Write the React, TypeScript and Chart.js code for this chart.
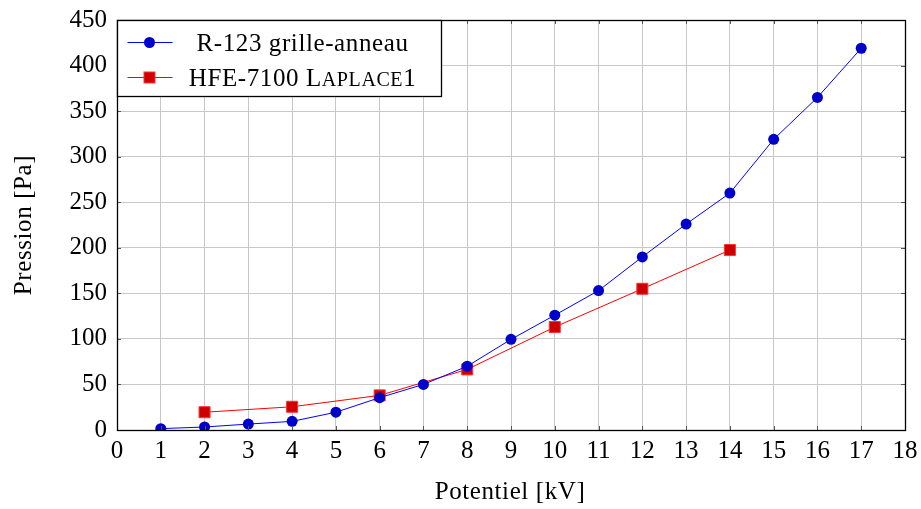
import React, { useEffect, useRef } from 'react';
import { Chart, registerables } from 'chart.js';

Chart.register(...registerables);

// ---- Data ----
const r123X = [1, 2, 3, 4, 5, 6, 7, 8, 9, 10, 11, 12, 13, 14, 15, 16, 17];
const r123Y = [1.5, 3.3, 6.5, 9.5, 19.5, 35.5, 50, 70, 99.5, 126, 153, 190, 226, 260, 319, 365, 419];
const hfeX = [2, 4, 6, 8, 10, 12, 14];
const hfeY = [19.5, 25.5, 38, 66.5, 113, 155, 197.5];
const xMin = 0, xMax = 18, xStep = 1;
const yMin = 0, yMax = 450, yStep = 50;
const r123Label = 'R-123 grille-anneau';
const hfeLabel = 'HFE-7100 Laplace1';
const xTitle = 'Potentiel [kV]';
const yTitle = 'Pression [Pa]';

const FONT = '"Liberation Serif", "DejaVu Serif", serif';
const FS = 25;

const framePlugin = {
  id: 'framePlugin',
  afterDatasetsDraw(chart: any) {
    const { ctx, chartArea: a, scales } = chart;
    ctx.save();
    ctx.strokeStyle = '#555';
    ctx.lineWidth = 1;
    const tl = 4;
    scales.x.ticks.forEach((t: any) => {
      const px = Math.round(scales.x.getPixelForValue(t.value)) + 0.5;
      ctx.beginPath();
      ctx.moveTo(px, a.bottom); ctx.lineTo(px, a.bottom - tl);
      ctx.moveTo(px, a.top); ctx.lineTo(px, a.top + tl);
      ctx.stroke();
    });
    scales.y.ticks.forEach((t: any) => {
      const py = Math.round(scales.y.getPixelForValue(t.value)) + 0.5;
      ctx.beginPath();
      ctx.moveTo(a.left, py); ctx.lineTo(a.left + tl, py);
      ctx.moveTo(a.right, py); ctx.lineTo(a.right - tl, py);
      ctx.stroke();
    });
    ctx.strokeStyle = '#000';
    ctx.lineWidth = 1.3;
    ctx.strokeRect(Math.round(a.left) + 0.5, Math.round(a.top) + 0.5, Math.round(a.right - a.left), Math.round(a.bottom - a.top));
    ctx.restore();
  },
  afterDraw(chart: any) {
    const { ctx, chartArea: a } = chart;
    ctx.save();
    ctx.fillStyle = '#000';
    ctx.font = `${FS}px ${FONT}`;
    ctx.textAlign = 'center';
    ctx.textBaseline = 'middle';
    (ctx as any).letterSpacing = '0.6px';
    ctx.fillText(xTitle, 510, 492);
    ctx.save();
    ctx.translate(24, 225);
    ctx.rotate(-Math.PI / 2);
    ctx.fillText(yTitle, 0, 0);
    ctx.restore();

    // legend box
    const bx = Math.round(a.left) + 0.5, by = Math.round(a.top) + 0.5;
    const bw = 324, bh = 76;
    ctx.fillStyle = '#fff';
    ctx.fillRect(bx, by, bw, bh);
    ctx.strokeStyle = '#000';
    ctx.lineWidth = 1.3;
    ctx.strokeRect(bx, by, bw, bh);

    const lx0 = bx + 10, lx1 = bx + 55, mx = bx + 32;
    const textCx = bx + 185;
    const ds = chart.data.datasets;
    let y = by + 22;
    ctx.strokeStyle = ds[0].borderColor;
    ctx.lineWidth = 1;
    ctx.beginPath(); ctx.moveTo(lx0, y); ctx.lineTo(lx1, y); ctx.stroke();
    ctx.fillStyle = ds[0].pointBackgroundColor;
    ctx.beginPath(); ctx.arc(mx, y, 5.5, 0, Math.PI * 2); ctx.fill();
    ctx.fillStyle = '#000';
    ctx.font = `${FS}px ${FONT}`;
    ctx.textAlign = 'center';
    ctx.textBaseline = 'alphabetic';
    ctx.fillText(ds[0].label, textCx, y + 8);

    y = by + 57;
    ctx.strokeStyle = ds[1].borderColor;
    ctx.lineWidth = 1;
    ctx.beginPath(); ctx.moveTo(lx0, y); ctx.lineTo(lx1, y); ctx.stroke();
    ctx.fillStyle = ds[1].pointBackgroundColor;
    ctx.fillRect(mx - 5.5, y - 5.5, 11, 11);
    ctx.strokeStyle = ds[1].pointBorderColor;
    ctx.strokeRect(mx - 5.5, y - 5.5, 11, 11);
    const lab: string = ds[1].label;
    const sp = lab.indexOf(' ');
    const part1 = lab.slice(0, sp + 1);
    const word = lab.slice(sp + 1);
    const pieces: { t: string; big: boolean }[] = [];
    pieces.push({ t: part1, big: true });
    for (const ch of word) {
      if (ch === ch.toUpperCase()) pieces.push({ t: ch, big: true });
      else pieces.push({ t: ch.toUpperCase(), big: false });
    }
    const bigF = `${FS}px ${FONT}`, smallF = `${Math.round(FS * 0.78)}px ${FONT}`;
    let total = 0;
    for (const p of pieces) { ctx.font = p.big ? bigF : smallF; total += ctx.measureText(p.t).width; }
    let cx = textCx - total / 2;
    ctx.textAlign = 'left';
    ctx.fillStyle = '#000';
    for (const p of pieces) {
      ctx.font = p.big ? bigF : smallF;
      ctx.fillText(p.t, cx, y + 8);
      cx += ctx.measureText(p.t).width;
    }
    ctx.restore();
  },
};

export default function App() {
  const ref = useRef<HTMLCanvasElement>(null);
  useEffect(() => {
    document.body.style.margin = '0';
    const chart = new Chart(ref.current as HTMLCanvasElement, {
      type: 'line',
      data: {
        datasets: [
          {
            label: r123Label,
            data: r123X.map((x, i) => ({ x, y: r123Y[i] })),
            borderColor: '#0000ff',
            borderWidth: 1,
            pointStyle: 'circle',
            pointRadius: 5.5,
            pointBackgroundColor: '#0000cc',
            pointBorderColor: '#0000cc',
            pointBorderWidth: 0,
            fill: false,
            tension: 0,
          },
          {
            label: hfeLabel,
            data: hfeX.map((x, i) => ({ x, y: hfeY[i] })),
            borderColor: '#ff0000',
            borderWidth: 1,
            pointStyle: 'rect',
            pointRadius: 7.8,
            pointBackgroundColor: '#cc0000',
            pointBorderColor: '#ff3333',
            pointBorderWidth: 1,
            fill: false,
            tension: 0,
          },
        ],
      },
      options: {
        responsive: false,
        animation: false,
        layout: { padding: { left: 0, right: 16, top: 20, bottom: 0 } },
        plugins: { legend: { display: false }, tooltip: { enabled: false } },
        scales: {
          x: {
            type: 'linear',
            min: xMin,
            max: xMax,
            ticks: { stepSize: xStep, color: '#000', padding: 6, font: { family: FONT, size: FS }, maxRotation: 0 },
            grid: { color: '#c8c8c8', drawTicks: false },
            border: { display: false },
            afterFit: (s: any) => { s.height = 79; s.paddingLeft = 0; s.paddingRight = 0; },
          },
          y: {
            type: 'linear',
            min: yMin,
            max: yMax,
            ticks: { stepSize: yStep, color: '#000', padding: 10, font: { family: FONT, size: FS } },
            grid: { color: '#c8c8c8', drawTicks: false },
            border: { display: false },
            afterFit: (s: any) => { s.width = 117; s.paddingTop = 0; s.paddingBottom = 0; },
          },
        },
      },
      plugins: [framePlugin],
    } as any);
    return () => chart.destroy();
  }, []);
  return (
    <div style={{ position: 'absolute', left: 0, top: 0, width: 921, height: 509 }}>
      <canvas ref={ref} width={921} height={509} />
    </div>
  );
}
